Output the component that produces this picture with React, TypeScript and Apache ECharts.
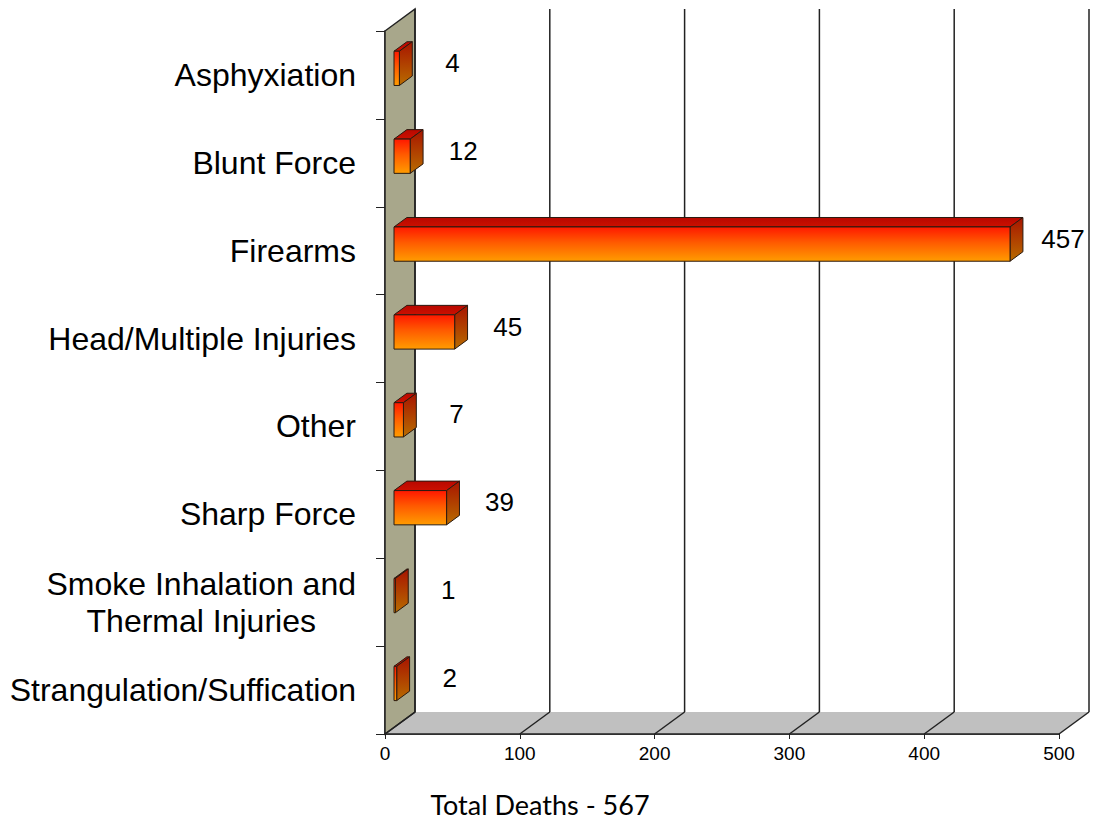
import React, { useEffect, useRef } from "react";
import * as echarts from "echarts";

const categories = [
  "Asphyxiation",
  "Blunt Force",
  "Firearms",
  "Head/Multiple Injuries",
  "Other",
  "Sharp Force",
  "Smoke Inhalation and\nThermal Injuries",
  "Strangulation/Suffication",
];
const deaths = [4, 12, 457, 45, 7, 39, 1, 2];
const xTickValues = [0, 100, 200, 300, 400, 500];
const totalLabel = "Total Deaths - 567";

// 3D look (layout constants)
const DX = 30;
const DY = -22;
const BAR_FRONT = 0.3;
const BAR_DEPTH = 0.43;
const BAR_THICK = 0.39;
const ARIAL = "'Liberation Sans', Arial, sans-serif";

export default function App() {
  const ref = useRef<HTMLDivElement>(null);

  useEffect(() => {
    const chart = echarts.init(ref.current!, null, { renderer: "svg" });
    const xMin = xTickValues[0];
    const xMax = xTickValues[xTickValues.length - 1];
    const step = xTickValues[1] - xTickValues[0];

    const frameRender = (params: any, api: any) => {
      const cs = params.coordSys;
      const top = cs.y;
      const bottom = cs.y + cs.height;
      const x0 = api.coord([xMin, 0])[0];
      const x1 = api.coord([xMax, 0])[0];
      const children: any[] = [];
      children.push({
        type: "polygon",
        shape: { points: [[x0, bottom], [x1, bottom], [x1 + DX, bottom + DY], [x0 + DX, bottom + DY]] },
        style: { fill: "#c0c0c0" },
      });
      children.push({
        type: "polygon",
        shape: { points: [[x0, top], [x0 + DX, top + DY], [x0 + DX, bottom + DY], [x0, bottom]] },
        style: { fill: "#a8a78b", stroke: "#222", lineWidth: 1.5 },
      });
      xTickValues.forEach((v) => {
        const x = api.coord([v, 0])[0];
        children.push({
          type: "line",
          shape: { x1: x + DX, y1: top + DY, x2: x + DX, y2: bottom + DY },
          style: { stroke: "#222", lineWidth: 1.5 },
        });
        children.push({
          type: "line",
          shape: { x1: x, y1: bottom, x2: x + DX, y2: bottom + DY },
          style: { stroke: "#222", lineWidth: 1.5 },
        });
      });
      children.push({
        type: "line",
        shape: { x1: x0, y1: bottom, x2: x1, y2: bottom },
        style: { stroke: "#222", lineWidth: 1.5 },
      });
      return { type: "group", children };
    };

    const barRender = (params: any, api: any) => {
      const v = api.value(0);
      const i = api.value(1);
      const start = api.coord([0, i]);
      const end = api.coord([v, i]);
      const band = api.size([0, 1])[1];
      const h = band * BAR_THICK;
      const fx = BAR_FRONT * DX;
      const fy = BAR_FRONT * DY;
      const bx = BAR_DEPTH * DX;
      const by = BAR_DEPTH * DY;
      const xa = start[0] + fx;
      const xb = end[0] + fx;
      const yc = start[1] + fy;
      const y0 = yc - h / 2;
      const y1 = yc + h / 2;
      const stroke = "#2a1a10";
      return {
        type: "group",
        children: [
          {
            type: "polygon",
            shape: { points: [[xa, y0], [xb, y0], [xb + bx, y0 + by], [xa + bx, y0 + by]] },
            style: {
              fill: new echarts.graphic.LinearGradient(0, 0, 0, 1, [
                { offset: 0, color: "#b80800" },
                { offset: 1, color: "#cc1000" },
              ]),
              stroke,
              lineWidth: 1,
            },
          },
          {
            type: "polygon",
            shape: { points: [[xb, y0], [xb + bx, y0 + by], [xb + bx, y1 + by], [xb, y1]] },
            style: {
              fill: new echarts.graphic.LinearGradient(0, 0, 0, 1, [
                { offset: 0, color: "#a81400" },
                { offset: 1, color: "#b86c00" },
              ]),
              stroke,
              lineWidth: 1,
            },
          },
          {
            type: "rect",
            shape: { x: xa, y: y0, width: Math.max(xb - xa, 0.5), height: h },
            style: {
              fill: new echarts.graphic.LinearGradient(0, 0, 0, 1, [
                { offset: 0, color: "#ff1800" },
                { offset: 0.45, color: "#ff5a00" },
                { offset: 1, color: "#ff9c00" },
              ]),
              stroke,
              lineWidth: 1,
            },
          },
          {
            type: "text",
            style: {
              text: String(v),
              x: end[0] + 62,
              y: start[1] - 12,
              align: "center",
              textAlign: "center",
              verticalAlign: "middle",
              textVerticalAlign: "middle",
              fill: "#000",
              font: `26px ${ARIAL}`,
            },
          },
        ],
      };
    };

    chart.setOption({
      animation: false,
      backgroundColor: "#fff",
      grid: { left: 385, top: 31, width: 674, height: 703, containLabel: false },
      xAxis: {
        type: "value",
        min: xMin,
        max: xMax,
        interval: step,
        axisLine: { show: true, lineStyle: { color: "#222", width: 1.5 } },
        axisTick: { show: true, length: 5, lineStyle: { color: "#222" } },
        axisLabel: { fontSize: 19, color: "#000", fontFamily: ARIAL, margin: 10 },
        splitLine: { show: false },
      },
      yAxis: {
        type: "category",
        inverse: true,
        data: categories,
        axisLine: { show: true, lineStyle: { color: "#222", width: 1.5 } },
        axisTick: { show: true, length: 9, lineStyle: { color: "#222" } },
        axisLabel: {
          fontSize: 32,
          color: "#000",
          fontFamily: ARIAL,
          margin: 29,
          formatter: (val: string) =>
            val.includes("\n") ? val.split("\n").map((s) => `{c|${s}}`).join("\n") : val,
          rich: {
            c: { fontSize: 32, color: "#000", fontFamily: ARIAL, align: "center", lineHeight: 37 },
          },
        },
        splitLine: { show: false },
      },
      graphic: [
        {
          type: "text",
          x: 540,
          y: 804,
          style: {
            text: totalLabel,
            align: "center",
            textAlign: "center",
            verticalAlign: "middle",
            textVerticalAlign: "middle",
            fill: "#000",
            font: "27px Lato, 'Open Sans', sans-serif",
          },
        },
      ],
      series: [
        {
          type: "custom",
          name: "frame",
          z: 1,
          clip: false,
          silent: true,
          renderItem: frameRender,
          data: [[0, 0]],
          encode: { x: 0, y: 1 },
        },
        {
          type: "custom",
          name: "Deaths",
          z: 3,
          clip: false,
          renderItem: barRender,
          data: deaths.map((v, i) => [v, i]),
          encode: { x: 0, y: 1 },
        },
      ],
    });
    return () => chart.dispose();
  }, []);

  return (
    <div
      ref={ref}
      style={{ position: "absolute", left: 0, top: 0, width: 1106, height: 819, background: "#fff" }}
    />
  );
}
